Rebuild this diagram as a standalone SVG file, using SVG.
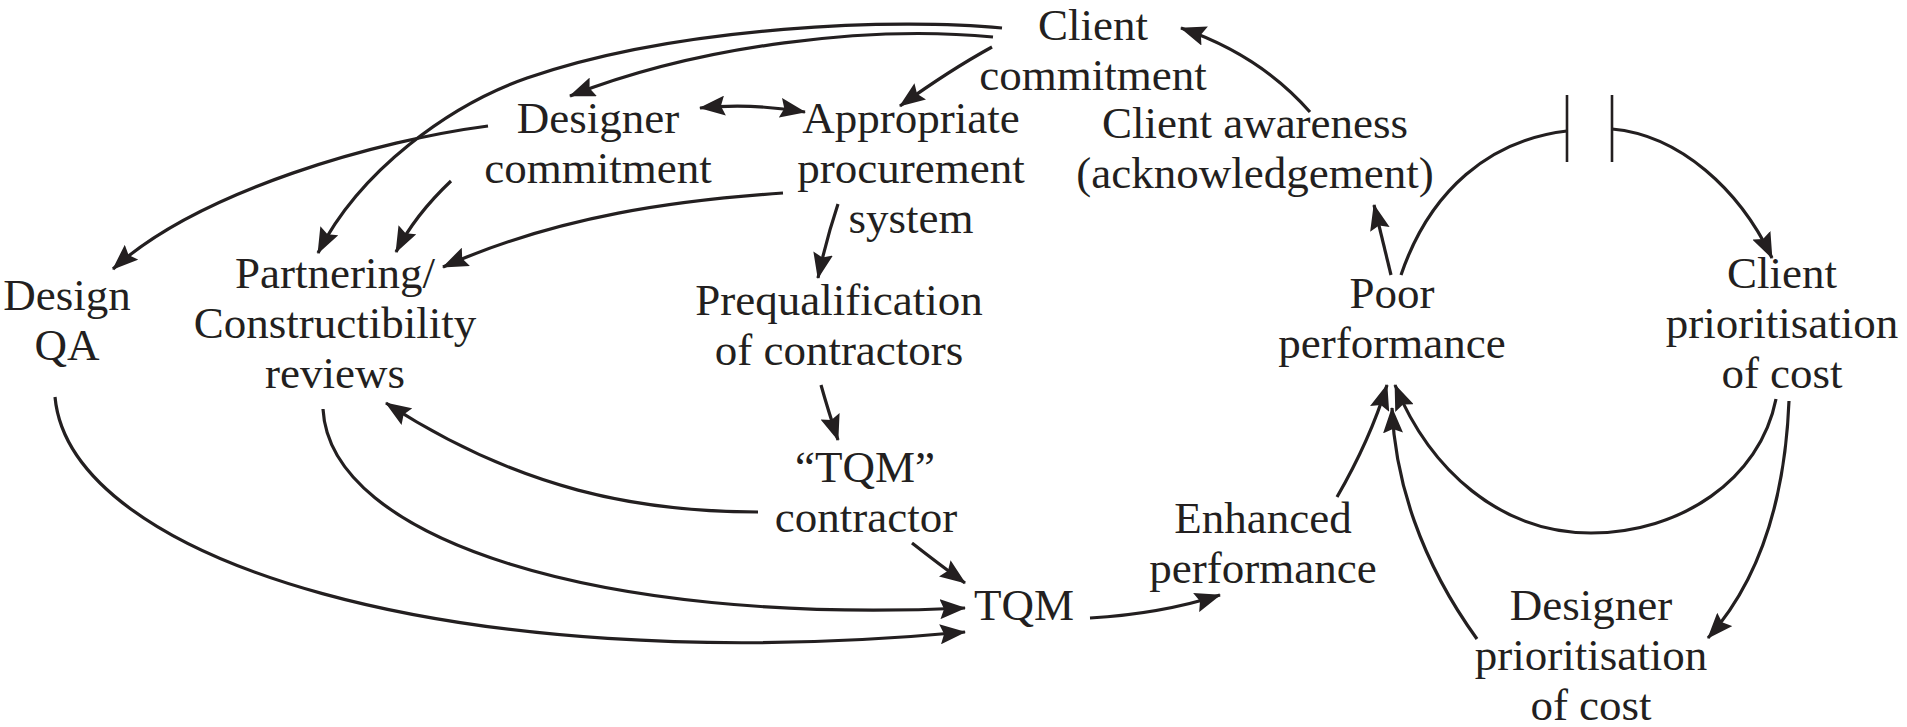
<svg xmlns="http://www.w3.org/2000/svg" width="1907" height="727" viewBox="0 0 1907 727">
<style>
text{font-family:"Liberation Serif","Times New Roman",serif;font-size:45px;fill:#231f20;text-anchor:middle}
.c{fill:none;stroke:#231f20;stroke-width:3.2}
.a{marker-end:url(#ah)}
.bar{stroke:#231f20;stroke-width:2.6}
</style>
<defs>
<marker id="ah" markerUnits="userSpaceOnUse" viewBox="0 0 26 20" markerWidth="26" markerHeight="20" refX="25" refY="10" orient="auto-start-reverse">
<path d="M0,0 L26,10 L0,20 L4,10 z" fill="#231f20"/>
</marker>
</defs>
<rect width="1907" height="727" fill="#fff"/>
<g id="connectors">
<path class="c a" d="M1002,28 C900,18 680,25 527,78 C450,105 360,170 318,253"/>
<path class="c a" d="M993,37 C870,25 700,45 570,96"/>
<path class="c a" d="M992,47 Q950,70 900,106"/>
<path class="c a" d="M700,108 Q752,103 805,112" marker-start="url(#ah)"/>
<path class="c a" d="M488,126 C380,140 200,190 113,269"/>
<path class="c a" d="M451,181 Q415,215 396,252"/>
<path class="c a" d="M783,193 C680,200 560,215 443,267"/>
<path class="c a" d="M838,204 Q826,240 818,278"/>
<path class="c a" d="M821,385 Q828,410 838,440"/>
<path class="c a" d="M758,512 C640,512 520,490 386,403"/>
<path class="c a" d="M323,409 C330,540 600,625 965,608"/>
<path class="c a" d="M55,397 C70,560 450,680 965,632"/>
<path class="c a" d="M912,543 Q940,565 965,583"/>
<path class="c a" d="M1090,618 Q1160,614 1220,595"/>
<path class="c a" d="M1337,497 Q1370,440 1387,385"/>
<path class="c a" d="M1477,639 C1420,560 1395,480 1392,408"/>
<path class="c a" d="M1776,399 C1760,480 1680,533 1591,533 C1500,533 1430,470 1395,385"/>
<path class="c a" d="M1789,401 C1785,500 1760,580 1708,638"/>
<path class="c" d="M1401,275 C1430,190 1490,140 1567,131"/>
<line class="bar" x1="1567" y1="95" x2="1567" y2="162"/>
<line class="bar" x1="1612" y1="95" x2="1612" y2="162"/>
<path class="c a" d="M1612,129 C1680,135 1740,190 1772,258"/>
<path class="c a" d="M1391,275 L1374,205"/>
<path class="c a" d="M1310,112 Q1260,55 1181,28"/>
</g>
<g id="client-commitment"><text x="1093" y="40">Client</text><text x="1093" y="90">commitment</text></g>
<g id="designer-commitment"><text x="598" y="133">Designer</text><text x="598" y="183">commitment</text></g>
<g id="appropriate-procurement"><text x="911" y="133">Appropriate</text><text x="911" y="183">procurement</text><text x="911" y="233">system</text></g>
<g id="client-awareness"><text x="1255" y="138">Client awareness</text><text x="1255" y="188">(acknowledgement)</text></g>
<g id="design-qa"><text x="67" y="310">Design</text><text x="67" y="360">QA</text></g>
<g id="partnering"><text x="335" y="288">Partnering/</text><text x="335" y="338">Constructibility</text><text x="335" y="388">reviews</text></g>
<g id="prequalification"><text x="839" y="315">Prequalification</text><text x="839" y="365">of contractors</text></g>
<g id="tqm-contractor"><text x="865" y="482">“TQM”</text><text x="866" y="532">contractor</text></g>
<g id="tqm"><text x="1024" y="620">TQM</text></g>
<g id="enhanced-performance"><text x="1263" y="533">Enhanced</text><text x="1263" y="583">performance</text></g>
<g id="poor-performance"><text x="1392" y="308">Poor</text><text x="1392" y="358">performance</text></g>
<g id="client-prioritisation"><text x="1782" y="288">Client</text><text x="1782" y="338">prioritisation</text><text x="1782" y="388">of cost</text></g>
<g id="designer-prioritisation"><text x="1591" y="620">Designer</text><text x="1591" y="670">prioritisation</text><text x="1591" y="720">of cost</text></g>
</svg>
